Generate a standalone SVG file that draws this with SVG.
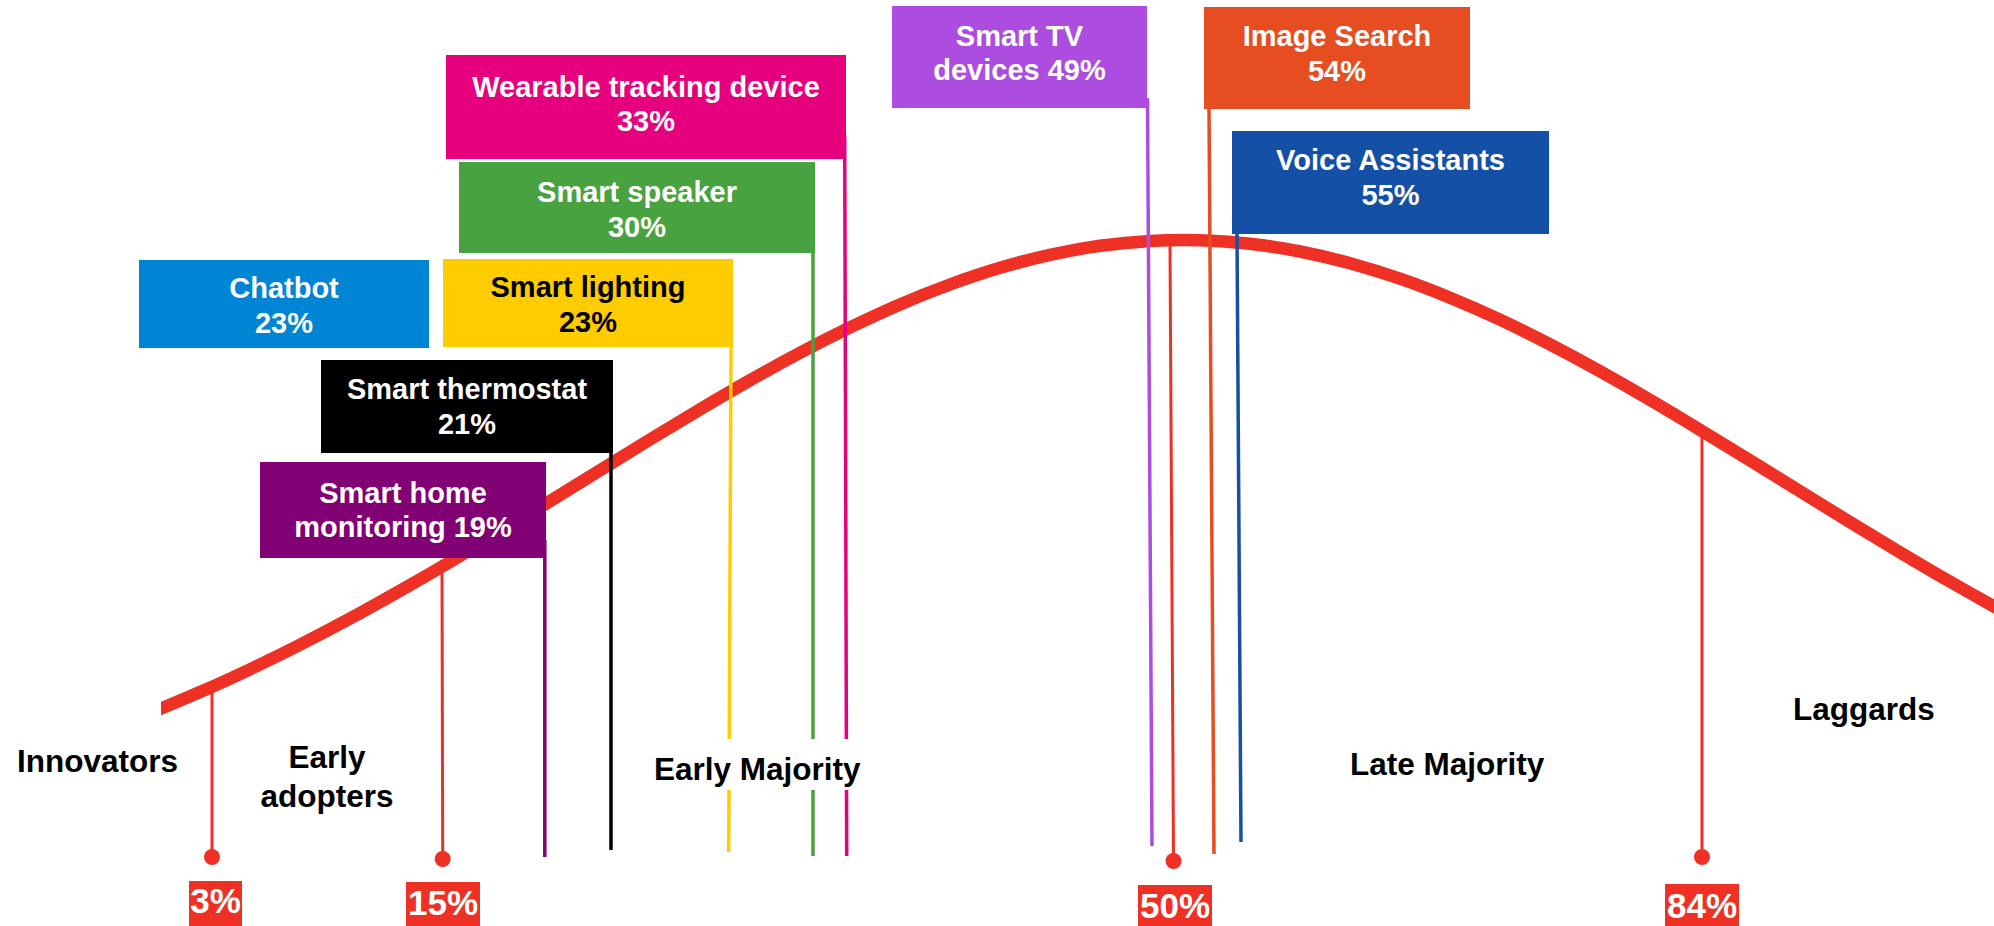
<svg xmlns="http://www.w3.org/2000/svg" width="1994" height="926" viewBox="0 0 1994 926">
<style>
text{font-family:"Liberation Sans",Arial,sans-serif;font-weight:bold}
.bt{font-size:29px;fill:#fff;text-anchor:middle}
.bk{font-size:29px;fill:#000;text-anchor:middle}
.lbl{font-size:31.5px;fill:#000}
.pct{font-size:35px;fill:#fff;text-anchor:middle}
.ln{stroke-width:3.5;fill:none}
.rl{stroke:#ee3124;stroke-width:3;fill:none}
.dot{fill:#ee3124}
.pbox{fill:#ee3124}
</style>
<defs>
<clipPath id="cc"><rect x="161" y="0" width="1833" height="926"/></clipPath>
</defs>
<rect width="1994" height="926" fill="#fff"/>
<g id="curve" clip-path="url(#cc)">
<path d="M150,713 C166.67,706.35 183.33,699.38 200,692.1 S233.33,677.19 250,669.3 S283.33,653.27 300,644.8 S333.33,627.6 350,618.6 S383.33,600.27 400,590.8 S433.33,571.65 450,561.8 S483.33,541.92 500,531.8 S533.33,511.48 550,501.2 S583.33,480.6 600,470.3 S633.33,449.68 650,439.5 S683.33,419.3 700,409.4 S733.33,389.76 750,380.3 S783.33,361.65 800,352.8 S833.33,335.49 850,327.4 S883.33,311.58 900,304.4 S933.33,290.62 950,284.5 S983.33,272.75 1000,267.8 S1033.33,258.58 1050,254.9 S1083.33,248.13 1100,245.8 S1133.33,241.83 1150,240.9 S1183.33,239.72 1200,240.2 S1233.33,241.91 1250,243.8 S1283.33,248.25 1300,251.5 S1333.33,258.65 1350,263.2 S1383.33,272.94 1400,278.7 S1433.33,290.85 1450,297.7 S1483.33,311.89 1500,319.7 S1533.33,335.77 1550,344.4 S1583.33,362.02 1600,371.3 S1633.33,390.13 1650,399.9 S1683.33,419.69 1700,429.8 S1733.33,450.12 1750,460.4 S1783.33,481 1800,491.3 S1833.33,511.91 1850,522.1 S1883.33,542.35 1900,552.3 S1933.33,572.1 1950,581.7 S1983.33,600.64 2000,609.8" fill="none" stroke="#ee3124" stroke-width="12.5"/>
</g>
<g id="connectors">
<line class="ln" stroke="#e6007e" x1="844.7" y1="136" x2="846.7" y2="856"/>
<line class="ln" stroke="#48a23f" x1="813" y1="253" x2="813" y2="856"/>
<line class="ln" stroke="#ffcc00" x1="731" y1="347" x2="728.7" y2="852"/>
<line class="ln" stroke="#000" x1="611" y1="453" x2="611" y2="850"/>
<line class="ln" stroke="#810073" x1="544.8" y1="540" x2="544.8" y2="857"/>
<line class="ln" stroke="#ac4de0" x1="1147.5" y1="98" x2="1152" y2="846"/>
<line class="ln" stroke="#e64d21" x1="1209" y1="109" x2="1214" y2="854"/>
<line class="ln" stroke="#1450a6" x1="1237" y1="234" x2="1241" y2="842"/>
<line class="rl" x1="212" y1="690" x2="212" y2="857"/>
<line class="rl" x1="442" y1="568" x2="442.7" y2="859"/>
<line class="rl" x1="1170" y1="244" x2="1173.5" y2="861"/>
<line class="rl" x1="1702" y1="431" x2="1702" y2="857"/>
<circle class="dot" cx="212" cy="857" r="8"/>
<circle class="dot" cx="442.7" cy="859" r="8"/>
<circle class="dot" cx="1173.5" cy="861" r="8"/>
<circle class="dot" cx="1702" cy="857" r="8"/>
</g>
<g id="wearable"><rect x="446" y="55" width="400" height="104" fill="#e6007e"/><text class="bt" x="646" y="97">Wearable tracking device</text><text class="bt" x="646" y="131">33%</text></g>
<g id="speaker"><rect x="459" y="162" width="356" height="91" fill="#48a23f"/><text class="bt" x="637" y="202">Smart speaker</text><text class="bt" x="637" y="237">30%</text></g>
<g id="chatbot"><rect x="139" y="260" width="290" height="88" fill="#0085d4"/><text class="bt" x="284" y="298">Chatbot</text><text class="bt" x="284" y="333">23%</text></g>
<g id="lighting"><rect x="443" y="259" width="290" height="88" fill="#ffcc00"/><text class="bk" x="588" y="297">Smart lighting</text><text class="bk" x="588" y="332">23%</text></g>
<g id="thermostat"><rect x="321" y="360" width="292" height="93" fill="#000"/><text class="bt" x="467" y="399">Smart thermostat</text><text class="bt" x="467" y="434">21%</text></g>
<g id="monitoring"><rect x="260" y="462" width="286" height="96" fill="#810073"/><text class="bt" x="403" y="503">Smart home</text><text class="bt" x="403" y="537">monitoring 19%</text></g>
<g id="smarttv"><rect x="892" y="6" width="255" height="102" fill="#ac4de0"/><text class="bt" x="1019.5" y="46">Smart TV</text><text class="bt" x="1019.5" y="80">devices 49%</text></g>
<g id="imagesearch"><rect x="1204" y="7" width="266" height="102" fill="#e64d21"/><text class="bt" x="1337" y="46">Image Search</text><text class="bt" x="1337" y="81">54%</text></g>
<g id="voice"><rect x="1232" y="131" width="317" height="103" fill="#1450a6"/><text class="bt" x="1390.5" y="170">Voice Assistants</text><text class="bt" x="1390.5" y="205">55%</text></g>
<g id="p3"><rect class="pbox" x="189" y="881" width="53" height="45"/><text class="pct" x="215.5" y="913">3%</text></g>
<g id="p15"><rect class="pbox" x="406" y="882" width="74" height="44"/><text class="pct" x="443" y="915">15%</text></g>
<g id="p50"><rect class="pbox" x="1138" y="885" width="74" height="41"/><text class="pct" x="1175" y="918">50%</text></g>
<g id="p84"><rect class="pbox" x="1665" y="884" width="74" height="42"/><text class="pct" x="1702" y="918">84%</text></g>
<g id="innovators"><text class="lbl" x="17" y="772">Innovators</text></g>
<g id="earlyadopters"><text class="lbl" x="327" y="768" text-anchor="middle">Early</text><text class="lbl" x="327" y="807" text-anchor="middle">adopters</text></g>
<g id="earlymajority"><rect x="640" y="739" width="228" height="51" fill="#fff"/><text class="lbl" x="654" y="780">Early Majority</text></g>
<g id="latemajority"><text class="lbl" x="1350" y="775">Late Majority</text></g>
<g id="laggards"><text class="lbl" x="1793" y="720">Laggards</text></g>
</svg>
